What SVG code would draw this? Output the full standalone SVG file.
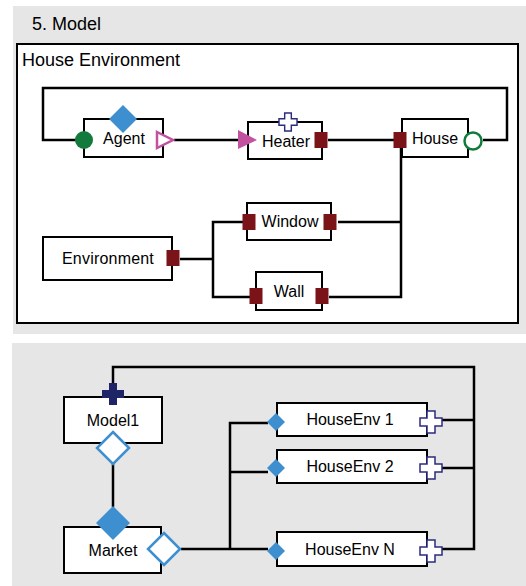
<svg xmlns="http://www.w3.org/2000/svg" width="526" height="586" viewBox="0 0 526 586">
<style>
.box{fill:#fff;stroke:#000;stroke-width:2}
.lbl{font-family:"Liberation Sans",Arial,sans-serif;font-size:16px;fill:#000;text-anchor:middle}
.ttl{font-family:"Liberation Sans",Arial,sans-serif;font-size:18px;fill:#000}
.wire{fill:none;stroke:#000;stroke-width:2.5;stroke-linejoin:miter}
.sq{fill:#7b1418}
.hx{fill:#fff;stroke:#2b2b7d;stroke-width:1.5}
.bd{fill:#3e8fcf}
.bdo{fill:#fff;stroke:#3e8fcf;stroke-width:2.5}
</style>
<defs>
<path id="cross" d="M-3.5,-9.5H3.5V-3.5H9.5V3.5H3.5V9.5H-3.5V3.5H-9.5V-3.5H-3.5Z"/>
<path id="crossL" d="M-4,-11H4V-4H11V4H4V11H-4V4H-11V-4H-4Z"/>
<rect id="port" x="-6.5" y="-8" width="13" height="16"/>
</defs>
<rect x="13" y="6" width="513" height="328" fill="#e6e6e6"/>
<rect x="12" y="343" width="514" height="243" fill="#e6e6e6"/>
<text class="ttl" x="32" y="30">5. Model</text>
<rect x="17" y="44" width="501" height="279" fill="#fff" stroke="#000" stroke-width="2"/>
<text class="ttl" x="22" y="66">House Environment</text>

<g id="connectors">
<polyline class="wire" points="84,140 43,140 43,88 507,88 507,140 483,140"/>
<line class="wire" x1="174" y1="140" x2="240" y2="140"/>
<line class="wire" x1="328" y1="140" x2="395" y2="140"/>
<polyline class="wire" points="401,142 401,297 329,297"/>
<line class="wire" x1="338" y1="222" x2="401" y2="222"/>
<line class="wire" x1="180" y1="259" x2="213" y2="259"/>
<polyline class="wire" points="243,222 213,222 213,297 250,297"/>
<polyline class="wire" points="113,384 113,367 474,367 474,549 441,549"/>
<line class="wire" x1="441" y1="420" x2="474" y2="420"/>
<line class="wire" x1="441" y1="468" x2="474" y2="468"/>
<line class="wire" x1="113" y1="464" x2="113" y2="507"/>
<line class="wire" x1="181" y1="549" x2="268" y2="549"/>
<polyline class="wire" points="268,423 230,423 230,549"/>
<line class="wire" x1="230" y1="472" x2="268" y2="472"/>
</g>

<g id="agent">
<rect class="box" x="84" y="119" width="79" height="38"/>
<text class="lbl" x="124" y="144">Agent</text>
<polygon class="bd" points="123,105 137,119 123,133 109,119"/>
<circle cx="84" cy="140" r="9" fill="#117a3c"/>
<polygon points="157,132 173,140 157,148" fill="#fff" stroke="#c2519f" stroke-width="2.5"/>
</g>
<g id="heater">
<rect class="box" x="248" y="122" width="74" height="37"/>
<text class="lbl" x="286" y="147">Heater</text>
<polygon points="238,130 257,140 238,149" fill="#c2519f"/>
<use href="#cross" class="hx" transform="translate(288,122) scale(0.95)"/>
<use href="#port" class="sq" x="321" y="140"/>
</g>
<g id="house">
<rect class="box" x="402" y="119" width="66" height="38"/>
<text class="lbl" x="435" y="144">House</text>
<use href="#port" class="sq" x="400" y="140"/>
<circle cx="473" cy="141" r="8.5" fill="#fff" stroke="#117a3c" stroke-width="2.5"/>
</g>
<g id="window">
<rect class="box" x="247" y="203" width="84" height="37"/>
<text class="lbl" x="290" y="227">Window</text>
<use href="#port" class="sq" x="249" y="222"/>
<use href="#port" class="sq" x="330" y="222"/>
</g>
<g id="environment">
<rect class="box" x="43" y="237" width="129" height="43"/>
<text class="lbl" x="108" y="264" letter-spacing="0.2">Environment</text>
<use href="#port" class="sq" x="173" y="258"/>
</g>
<g id="wall">
<rect class="box" x="256" y="272" width="66" height="38"/>
<text class="lbl" x="289" y="297">Wall</text>
<use href="#port" class="sq" x="256" y="296"/>
<use href="#port" class="sq" x="322" y="296"/>
</g>

<g id="model1">
<rect class="box" x="64" y="397" width="98" height="46"/>
<text class="lbl" x="113" y="426">Model1</text>
<use href="#crossL" fill="#1f2466" transform="translate(113,394)"/>
<polygon class="bdo" points="113,432 129,448 113,464 97,448"/>
</g>
<g id="market">
<rect class="box" x="64" y="527" width="97" height="46"/>
<text class="lbl" x="113" y="556">Market</text>
<polygon class="bd" points="113,506 130,523 113,540 96,523"/>
<polygon class="bdo" points="164,533 180,549 164,565 148,549"/>
</g>
<g id="houseenv1">
<rect class="box" x="277" y="403" width="150" height="33"/>
<text class="lbl" x="350" y="425">HouseEnv 1</text>
<polygon class="bd" points="276,413 285,422 276,431 267,422"/>
<use href="#crossL" class="hx" transform="translate(431,422)"/>
</g>
<g id="houseenv2">
<rect class="box" x="277" y="450" width="150" height="33"/>
<text class="lbl" x="350" y="472">HouseEnv 2</text>
<polygon class="bd" points="276,459 285,468 276,477 267,468"/>
<use href="#crossL" class="hx" transform="translate(431,468)"/>
</g>
<g id="houseenvN">
<rect class="box" x="277" y="532" width="150" height="34"/>
<text class="lbl" x="350" y="555">HouseEnv N</text>
<polygon class="bd" points="276,542 285,551 276,560 267,551"/>
<use href="#crossL" class="hx" transform="translate(431,551)"/>
</g>
</svg>
